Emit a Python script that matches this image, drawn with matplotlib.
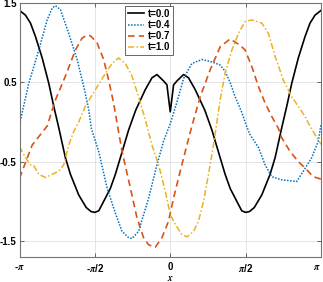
import numpy as np
import matplotlib
matplotlib.use("Agg")
import matplotlib.pyplot as plt

PI = np.pi

# values
x_t00 = [-PI, -3.017, -2.913, -2.809, -2.669, -2.532, -2.428, -2.324, -2.185, -2.08,
         -1.908, -1.75, -1.65, -1.571, -1.49, -1.421, -1.25, -1.144, -1.04, -0.868, -0.72, -0.52,
         -0.38, -0.277, -0.14, -0.069, -0.035, 0.0, 0.035, 0.069, 0.14, 0.277,
         0.38, 0.52, 0.72, 0.868, 1.04, 1.144, 1.25, 1.421, 1.49, 1.571, 1.65, 1.75,
         1.908, 2.08, 2.185, 2.324, 2.428, 2.532, 2.669, 2.809, 2.913, 3.017, PI]
y_t00 = [1.41, 1.35, 1.25, 1.08, 0.81, 0.49, 0.2, -0.07, -0.45, -0.66,
         -0.92, -1.08, -1.13, -1.14, -1.12, -1.04, -0.84, -0.66, -0.45, -0.1, 0.15, 0.41,
         0.56, 0.6, 0.52, 0.47, 0.3, 0.13, 0.3, 0.47, 0.52, 0.6,
         0.56, 0.41, 0.15, -0.1, -0.45, -0.66, -0.84, -1.04, -1.12, -1.14, -1.13, -1.08,
         -0.92, -0.66, -0.45, -0.07, 0.2, 0.49, 0.81, 1.08, 1.25, 1.35, 1.41]

x_t04 = [-PI, -2.948, -2.74, -2.565, -2.461, -2.393, -2.289, -2.116, -1.941, -1.804,
         -1.7, -1.644, -1.492, -1.317, -1.144, -1.005, -0.868, -0.797, -0.66, -0.451,
         -0.277, -0.139, 0.0, 0.139, 0.277, 0.451, 0.66, 0.868, 1.04, 1.144,
         1.248, 1.352, 1.492, 1.596, 1.664, 1.837, 1.977, 2.116, 2.324, 2.636,
         2.773, 2.948, 3.085, PI]
y_t04 = [-0.03, 0.49, 0.91, 1.29, 1.44, 1.47, 1.42, 1.12, 0.79, 0.45,
         0.16, -0.08, -0.37, -0.83, -1.15, -1.38, -1.46, -1.47, -1.38, -0.96,
         -0.54, -0.24, -0.02, 0.25, 0.55, 0.74, 0.79, 0.76, 0.72, 0.64,
         0.5, 0.32, 0.12, -0.06, -0.16, -0.32, -0.54, -0.69, -0.73, -0.75,
         -0.62, -0.45, -0.24, -0.03]

x_t07 = [-PI, -2.877, -2.565, -2.393, -2.185, -1.977, -1.837, -1.733, -1.664, -1.525,
         -1.388, -1.284, -1.18, -1.109, -1.005, -0.832, -0.693, -0.556, -0.451, -0.312,
         -0.173, -0.035, 0.069, 0.208, 0.347, 0.451, 0.624, 0.832, 1.04, 1.248,
         1.456, 1.56, 1.7, 1.837, 1.977, 2.116, 2.253, 2.324, 2.497, 2.669,
         2.809, 2.981, PI]
y_t07 = [-0.71, -0.29, -0.05, 0.28, 0.58, 0.91, 1.06, 1.1, 1.09, 1.0,
         0.79, 0.53, 0.24, -0.01, -0.37, -0.83, -1.21, -1.46, -1.55, -1.58,
         -1.46, -1.25, -0.96, -0.62, -0.29, -0.05, 0.32, 0.66, 0.95, 1.05,
         0.97, 0.91, 0.7, 0.45, 0.24, 0.07, -0.08, -0.2, -0.37, -0.5,
         -0.58, -0.69, -0.72]

x_t10 = [-PI, -3.017, -2.913, -2.844, -2.74, -2.601, -2.461, -2.324, -2.22, -2.116,
         -2.012, -1.908, -1.769, -1.56, -1.388, -1.213, -1.076, -0.936, -0.797, -0.66,
         -0.52, -0.381, -0.243, -0.104, 0.0, 0.104, 0.243, 0.347, 0.485, 0.589,
         0.693, 0.797, 0.901, 1.04, 1.144, 1.284, 1.421, 1.56, 1.7, 1.908,
         2.045, 2.185, 2.357, 2.532, 2.669, 2.809, 2.913, 3.017, PI]
y_t10 = [-0.31, -0.45, -0.54, -0.55, -0.66, -0.7, -0.66, -0.62, -0.54, -0.29,
         -0.12, 0.0, 0.2, 0.41, 0.58, 0.74, 0.81, 0.74, 0.58, 0.32,
         0.03, -0.29, -0.54, -0.87, -1.17, -1.29, -1.42, -1.45, -1.38, -1.25,
         -1.0, -0.66, -0.29, 0.28, 0.62, 0.91, 1.12, 1.27, 1.29, 1.25,
         1.12, 0.83, 0.53, 0.32, 0.2, 0.07, -0.05, -0.16, -0.28]

labels = ["t=0.0", "t=0.4", "t=0.7", "t=1.0"]
xtick_vals = [-PI, -PI / 2, 0, PI / 2, PI]
xtick_labels = [r"-$\pi$", r"-$\pi$/2", "0", r"$\pi$/2", r"$\pi$"]
ytick_vals = [-1.5, -0.5, 0.5, 1.5]


def main():
    plt.rcParams["font.family"] = ["Liberation Sans", "DejaVu Sans"]
    plt.rcParams["mathtext.fontset"] = "stix"
    plt.rcParams["font.weight"] = "bold"

    fig = plt.figure(figsize=(3.23, 2.82), dpi=100)
    ax = fig.add_axes([0.0604, 0.0897, 0.9334, 0.8986])

    ax.plot(x_t00, y_t00, color="k", lw=1.2, ls="-", label=labels[0])
    ax.plot(x_t04, y_t04, color="#0072BD", lw=1.1, ls=(0, (1, 1)), label=labels[1])
    ax.plot(x_t07, y_t07, color="#D95319", lw=1.2, ls=(0, (4, 2.5)), label=labels[2])
    ax.plot(x_t10, y_t10, color="#EDB120", lw=1.1, ls=(0, (4, 1.5, 1, 1.5)), label=labels[3])

    ax.set_xlim(-PI, PI)
    ax.set_ylim(-1.7, 1.5)
    ax.set_xticks(xtick_vals)
    ax.set_xticklabels(xtick_labels)
    ax.set_yticks(ytick_vals)
    ax.set_yticklabels(["-1.5", "-0.5", "0.5", "1.5"])
    ax.tick_params(direction="in", length=3, width=0.6, color="0.3", labelsize=7,
                   top=True, right=True, pad=2)
    ax.tick_params(axis="x", pad=4)
    # keep the last label (pi) inside the picture
    ax.get_xticklabels()[-1].set_horizontalalignment("right")
    ax.grid(True, color="0.88", lw=0.6)
    ax.set_axisbelow(True)
    for s in ax.spines.values():
        s.set_color("0.45")
        s.set_linewidth(0.8)

    ax.set_xlabel(r"$x$", fontsize=7, labelpad=-1)

    leg = ax.legend(loc="upper left", bbox_to_anchor=(0.35, 0.99), fontsize=7,
                    handlelength=1.7, handletextpad=0.35, labelspacing=0.12,
                    borderpad=0.3, borderaxespad=0, fancybox=False, framealpha=1)
    leg.get_frame().set_edgecolor("0.3")
    leg.get_frame().set_linewidth(0.6)

    fig.savefig("out.png", dpi=100)


if __name__ == "__main__": main()
